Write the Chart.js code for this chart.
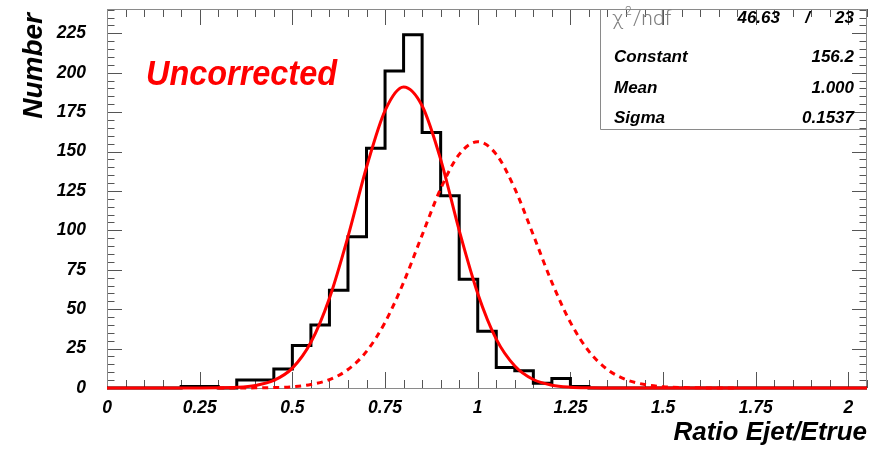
<!DOCTYPE html>
<html><head><meta charset="utf-8">
<script src="https://cdn.jsdelivr.net/npm/chart.js@4.4.1/dist/chart.umd.min.js"></script>
<style>html,body{margin:0;padding:0;background:#fff;}#wrap{width:881px;height:453px;}</style>
</head><body><div id="wrap"><canvas id="c" width="881" height="453"></canvas></div>
<script>
// ---- data ----
const binLowEdges = [0,0.05,0.1,0.15,0.2,0.25,0.3,0.35,0.4,0.45,0.5,0.55,0.6,0.65,0.7,0.75,0.8,0.85,0.9,0.95,1.0,1.05,1.1,1.15,1.2,1.25,1.3,1.35,1.4,1.45,1.5,1.55,1.6,1.65,1.7,1.75,1.8,1.85,1.9,1.95,2.0];
const binCounts   = [0,0,0,0,1,1,0,5,5,12,27,40,62,96,152,201,224,162,122,69,36,13,11,3,6,1,0,0,0,0,0,0,0,0,0,0,0,0,0,0,0];
const histUpperEdge = 2.05;

const fitX = [0,0.25,0.3,0.35,0.4,0.45,0.5,0.55,0.6,0.65,0.7,0.75,0.8,0.85,0.9,0.95,1.0,1.05,1.1,1.15,1.2,1.25,1.3,1.35,2.05];
const fitY = [0,0,0.1,0.4,1.6,4.8,12.6,29,57,96,140,176,191,179,145,100,60,31,14,5.4,1.8,0.5,0.1,0,0];

const corrX = [0.3,0.35,0.4,0.45,0.5,0.55,0.6,0.65,0.7,0.75,0.8,0.85,0.9,0.95,1.0,1.05,1.1,1.15,1.2,1.25,1.3,1.35,1.4,1.45,1.5,1.55,1.6,1.65,1.7];
const corrY = [0,0.02,0.1,0.3,0.8,2.2,5.3,11.7,23.2,41.6,67,97,126.4,148.2,156.2,148.2,126.4,97,67,41.6,23.2,11.7,5.3,2.2,0.8,0.3,0.1,0.02,0];

const xTickValues = [0,0.25,0.5,0.75,1,1.25,1.5,1.75,2];
const xTickLabels = ['0','0.25','0.5','0.75','1','1.25','1.5','1.75','2'];
const yTickValues = [0,25,50,75,100,125,150,175,200,225];
const yTickLabels = ['0','25','50','75','100','125','150','175','200','225'];

const statsLabels = ['Constant','Mean','Sigma'];
const statsValues = ['156.2','1.000','0.1537'];
const chi2Value = '46.63';
const ndfValue = '23';

const xTitle = 'Ratio Ejet/Etrue';
const yTitle = 'Number';
const noteText = 'Uncorrected';

// ---- build ----
const FAM = "'Liberation Sans', Arial, Helvetica, sans-serif";
const histPoints = binLowEdges.map((e,i)=>({x:e,y:binCounts[i]}));
histPoints.push({x:histUpperEdge,y:binCounts[binCounts.length-1]});
const fitPoints = fitX.map((v,i)=>({x:v,y:fitY[i]}));
const corrPoints = corrX.map((v,i)=>({x:v,y:corrY[i]}));

const rootPlugin = {
  id:'rootStyle',
  beforeDatasetsDraw(chart){
    const {ctx, chartArea:a, scales:{x,y}} = chart;
    ctx.save();
    ctx.strokeStyle='#555'; ctx.lineWidth=1;
    ctx.beginPath();
    for (let k=0;k<=41;k++){
      const v=k*0.05; const px=Math.round(x.getPixelForValue(v))+0.5;
      const L=(k%5===0)?16:8;
      ctx.moveTo(px,a.bottom); ctx.lineTo(px,a.bottom-L);
      ctx.moveTo(px,a.top); ctx.lineTo(px,a.top+L);
    }
    for (let k=0;k<=48;k++){
      const v=k*5; const py=Math.round(y.getPixelForValue(v))+0.5;
      if (py<a.top) continue;
      const L=(k%5===0)?15:7.5;
      ctx.moveTo(a.left,py); ctx.lineTo(a.left+L,py);
      ctx.moveTo(a.right,py); ctx.lineTo(a.right-L,py);
    }
    ctx.stroke();
    ctx.strokeStyle='#8a8a8a';
    ctx.strokeRect(Math.round(a.left)+0.5, Math.round(a.top)+0.5, Math.round(a.right-a.left)-1, Math.round(a.bottom-a.top));
    ctx.restore();
  },
  afterDraw(chart){
    const {ctx, chartArea:a} = chart;
    ctx.save();
    // axis titles
    ctx.fillStyle='#000';
    ctx.font = "italic bold 26px "+FAM;
    ctx.textAlign='right'; ctx.textBaseline='alphabetic';
    ctx.fillText(xTitle, a.right, 440);
    ctx.save();
    ctx.translate(42, 13); ctx.rotate(-Math.PI/2);
    ctx.font = "italic bold 28px "+FAM;
    ctx.textAlign='right';
    ctx.fillText(yTitle, 0, 0);
    ctx.restore();
    // note
    ctx.fillStyle='#ff0000';
    ctx.font = "italic bold 35px "+FAM;
    ctx.textAlign='left';
    ctx.fillText(noteText, 146, 85, 191);
    // stats box
    ctx.strokeStyle='#8a8a8a'; ctx.lineWidth=1;
    ctx.beginPath();
    ctx.moveTo(600.5, a.top); ctx.lineTo(600.5, 129.5); ctx.lineTo(a.right, 129.5);
    ctx.stroke();
    ctx.fillStyle='#808080';
    ctx.font = "300 21px Roboto, 'DejaVu Sans', sans-serif";
    ctx.textAlign='left';
    ctx.fillText('χ', 612, 25);
    ctx.font = "300 12px Roboto, 'DejaVu Sans', sans-serif";
    ctx.fillText('2', 625, 15);
    ctx.font = "300 21px Roboto, 'DejaVu Sans', sans-serif";
    ctx.fillText('/ndf', 633, 25);
    ctx.fillStyle='#000';
    ctx.font = "italic bold 17px "+FAM;
    ctx.textAlign='right';
    ctx.fillText(chi2Value, 780, 23);
    ctx.fillText('/', 810, 23);
    ctx.fillText(ndfValue, 854, 23);
    const rowsY=[61.5,92.5,123];
    statsLabels.forEach((lab,i)=>{
      ctx.textAlign='left'; ctx.fillText(lab, 614, rowsY[i]);
      ctx.textAlign='right'; ctx.fillText(statsValues[i], 854, rowsY[i]);
    });
    ctx.restore();
  }
};

new Chart(document.getElementById('c'), {
  type:'line',
  data:{datasets:[
    {data:fitPoints, borderColor:'#ff0000', borderWidth:3, pointRadius:0, cubicInterpolationMode:'monotone', fill:false, clip:4},
    {data:corrPoints, borderColor:'#ff0000', borderWidth:3, borderDash:[6,5], pointRadius:0, cubicInterpolationMode:'monotone', fill:false, clip:4},
    {data:histPoints, borderColor:'#000', borderWidth:3, pointRadius:0, stepped:'before', fill:false, clip:4}
  ]},
  options:{
    responsive:false, devicePixelRatio:1, animation:false,
    layout:{padding:{top:9,right:14,left:0,bottom:0}},
    plugins:{legend:{display:false}, tooltip:{enabled:false}},
    scales:{
      x:{type:'linear', min:0, max:2.05,
        grid:{display:false, drawTicks:false}, border:{display:false},
        afterBuildTicks:(s)=>{s.ticks=xTickValues.map(v=>({value:v}));},
        afterFit:(s)=>{s.height=65; s.paddingLeft=0; s.paddingRight=0;},
        ticks:{padding:10, maxRotation:0, autoSkip:false, color:'#000',
          callback:(v,i)=>xTickLabels[i],
          font:{family:FAM, size:17.5, style:'italic', weight:'bold'}}
      },
      y:{type:'linear', min:0, max:240.4,
        grid:{display:false, drawTicks:false}, border:{display:false},
        afterBuildTicks:(s)=>{s.ticks=yTickValues.map(v=>({value:v}));},
        afterFit:(s)=>{s.width=107; s.paddingTop=0; s.paddingBottom=0;},
        ticks:{padding:21, autoSkip:false, color:'#000',
          callback:(v,i)=>yTickLabels[i],
          font:{family:FAM, size:17.5, style:'italic', weight:'bold'}}
      }
    }
  },
  plugins:[rootPlugin]
});
</script></body></html>
